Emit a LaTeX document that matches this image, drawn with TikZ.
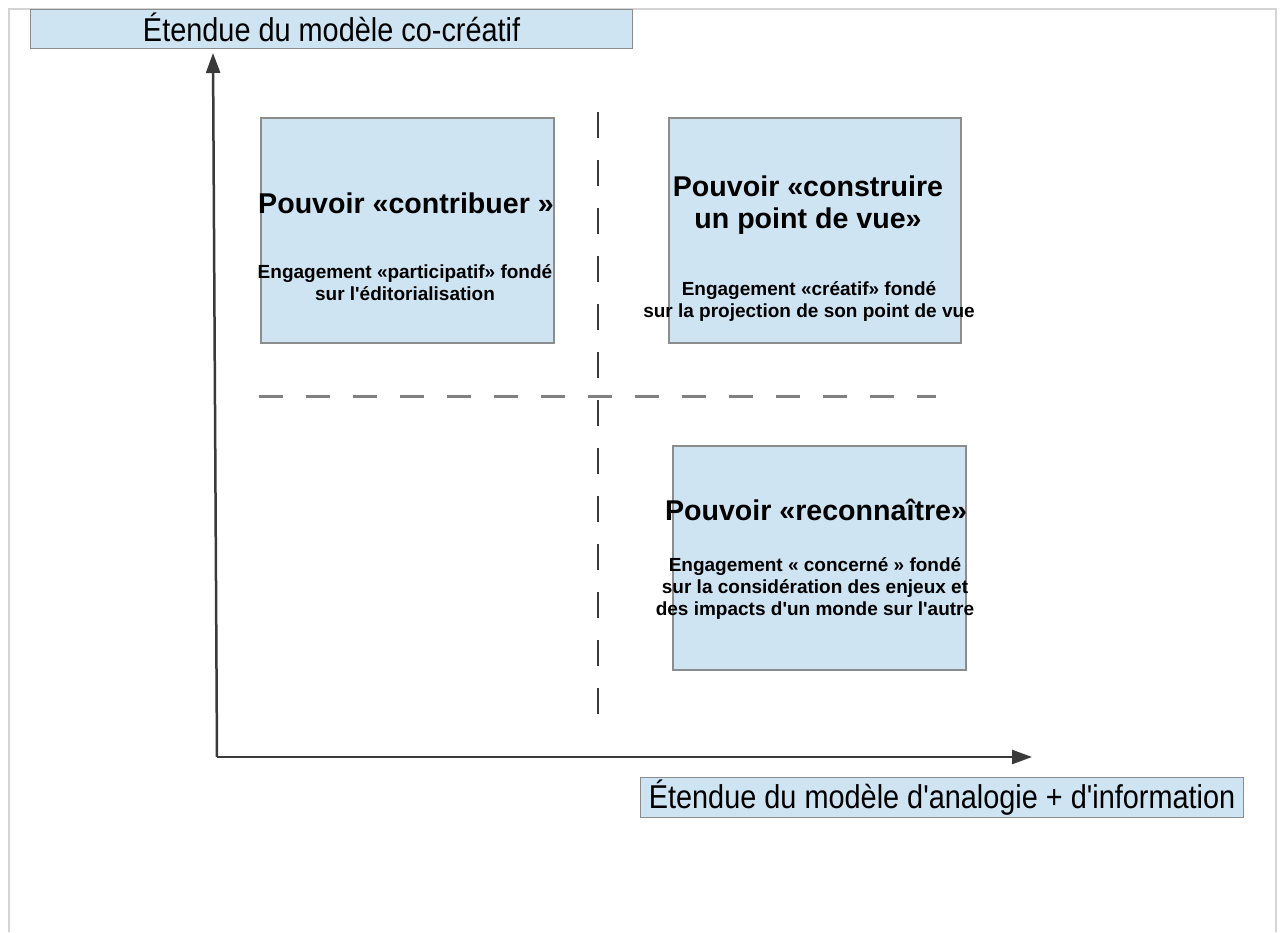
\documentclass[tikz,border=0pt]{standalone}
\usepackage{fontspec}
\setmainfont{Liberation Sans}
\newfontfamily\narrowfont[FakeStretch=0.875]{Liberation Sans}
\newfontfamily\plainfont{Liberation Sans}
\usetikzlibrary{arrows.meta}
\definecolor{boxfill}{HTML}{CFE4F2}
\definecolor{boxline}{HTML}{8C8C8C}
\definecolor{framegray}{HTML}{D4D4D4}
\definecolor{axisgray}{HTML}{3A3A3A}
\definecolor{hdash}{HTML}{808080}
\begin{document}
\begin{tikzpicture}[x=1pt,y=-1pt,
  qbox/.style={draw=boxline,line width=1.5pt,fill=boxfill,inner sep=0pt,anchor=north west},
  axislabel/.style={draw=boxline,line width=1.2pt,fill=boxfill,inner sep=0pt,anchor=north west,
    font=\narrowfont\fontsize{33}{33}\selectfont,text=black},
  titletext/.style={align=center,inner sep=0pt,font=\plainfont\bfseries\fontsize{28.6}{32}\selectfont},
  subtext/.style={align=center,inner sep=0pt,font=\plainfont\bfseries\fontsize{19}{22}\selectfont},
  axisline/.style={draw=axisgray,line width=2.5pt,-{Triangle[length=20pt,width=14pt]}},
  vdashline/.style={draw=axisgray,line width=2pt,dash pattern=on 26pt off 22pt},
  hdashline/.style={draw=hdash,line width=3pt,dash pattern=on 24pt off 23pt}]
\useasboundingbox (0,0) rectangle (1282,932);
% page frame
\draw[framegray,line width=2pt] (9,932) -- (9,9) -- (1276,9) -- (1276,932);
% axis labels
\node[axislabel,minimum width=602pt,minimum height=39pt] (ylab) at (30,9) {\raisebox{3pt}{Étendue du modèle co-créatif}};
\node[axislabel,minimum width=603pt,minimum height=40pt] (xlab) at (640,777) {\raisebox{2pt}{Étendue du modèle d'analogie + d'information}};
% axes
\coordinate (origin) at (217,757);
\coordinate (ytip) at (213,53);
\coordinate (xtip) at (1032,757);
\draw[axisline] (origin) -- (ytip);
\draw[axisline] (origin) -- (xtip);
% quadrant separators
\coordinate (vtop) at (598,112);
\coordinate (vbot) at (598,716);
\coordinate (hleft) at (259,396);
\coordinate (hright) at (936,396);
\draw[vdashline] (vtop) -- (vbot);
\draw[hdashline] (hleft) -- (hright);
% boxes
\node[qbox,minimum width=293pt,minimum height=225pt] (b1) at (260,117) {};
\node[qbox,minimum width=292pt,minimum height=225pt] (b2) at (668,117) {};
\node[qbox,minimum width=293pt,minimum height=224pt] (b3) at (672,445) {};
% texts
\node[titletext] (t1) at (406,203) {Pouvoir «contribuer »};
\node[subtext] (s1) at (405,283) {Engagement «participatif» fondé\\sur l'éditorialisation};
\node[titletext] (t2) at (808,205) {Pouvoir «construire\\un point de vue»};
\node[subtext] (s2) at (809,301) {Engagement «créatif» fondé\\sur la projection de son point de vue};
\node[titletext] (t3) at (816,510) {Pouvoir «reconnaître»};
\node[subtext] (s3) at (815,588) {Engagement « concerné » fondé\\sur la considération des enjeux et\\des impacts d'un monde sur l'autre};
\end{tikzpicture}
\end{document}
